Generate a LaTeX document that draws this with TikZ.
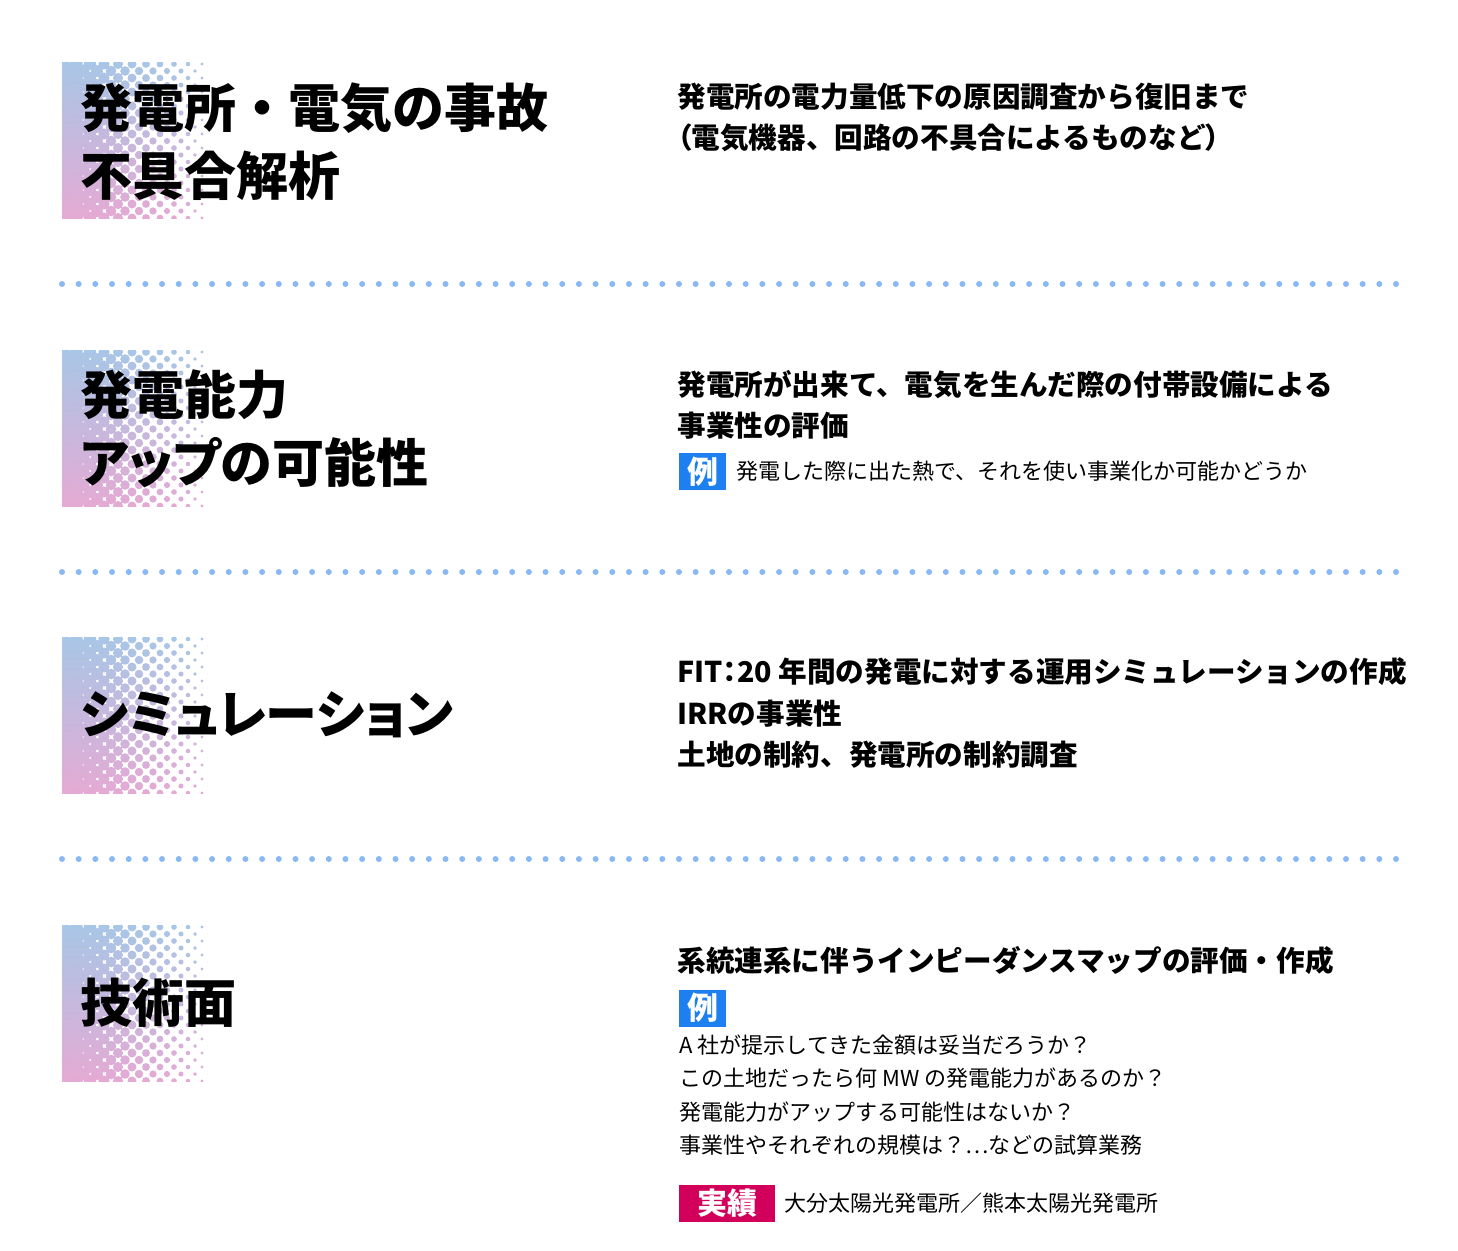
\documentclass[tikz,border=0pt]{standalone}
\usepackage{fontspec}
\usepackage{xcolor}
\newfontfamily\jp{Noto Sans CJK JP}
\newfontfamily\jpp{Noto Sans CJK JP}[RawFeature=+palt]
\definecolor{httop}{RGB}{168,198,230}
\definecolor{htbottom}{RGB}{228,170,212}
\definecolor{sepblue}{RGB}{138,184,245}
\definecolor{tagblue}{RGB}{30,128,240}
\definecolor{tagred}{RGB}{210,0,90}
\tikzset{
  head/.style={font=\jp\bfseries\fontsize{26pt}{34pt}\selectfont, align=left, inner sep=0pt, anchor=west},
  body/.style={font=\jp\bfseries\fontsize{14.3pt}{20.8pt}\selectfont, align=left, inner sep=0pt, anchor=west},
  small/.style={font=\jp\fontsize{11pt}{16.7pt}\selectfont, align=left, inner sep=0pt, anchor=west},
  tagbox/.style={fill=tagblue, text=white, font=\jp\bfseries\fontsize{15.5pt}{15.5pt}\selectfont,
    minimum width=23.5pt, minimum height=18.5pt, inner sep=0pt},
  resultbox/.style={fill=tagred, text=white, font=\jp\bfseries\fontsize{15pt}{15pt}\selectfont,
    minimum width=48pt, minimum height=18.5pt, inner sep=0pt},
  sepdot/.style={fill=sepblue}
}
% halftone square, #1 = top edge
\newcommand{\halftone}[1]{%
  \begin{scope}
    \clip (62,#1) rectangle (208,#1+156);
    \clip foreach \i in {0,...,22} {
      foreach \j [evaluate=\j as \xx using {62+14*\j+7*mod(\i,2)},
                  evaluate=\j as \rr using {max(0.6,7.3-0.04*(14*\j+7*mod(\i,2)))}] in {0,...,11}
        {(\xx,#1+2+7*\i) circle[radius=\rr*0.5pt]}
    };
    \shade[top color=httop, bottom color=htbottom] (62,#1) rectangle (208,#1+156);
  \end{scope}}

\begin{document}
\begin{tikzpicture}[x=0.5pt, y=-0.5pt]
  \useasboundingbox (0,0) rectangle (1458,1250);
  \halftone{62}
  \halftone{350}
  \halftone{637}
  \halftone{925}
  \foreach \ly in {284,572,859}
    \foreach \k in {0,...,80}
      \fill[sepdot] (62+16.675*\k,\ly) circle[radius=1.5pt];

  \node[head] (fault) at (80,142) {発電所・電気の事故\\不具合解析};
  \node[body] (faulttxt) at (677,117.5) {発電所の電力量低下の原因調査から復旧まで\\{\jpp（}電気機器、回路の不具合によるものなど{\jpp ）}};

  \node[head] (power) at (80,429) {発電能力\\{\jpp アップの可能性}};
  \node[body] (powertxt) at (677,405) {発電所が出来て、電気を生んだ際の付帯設備による\\事業性の評価};
  \node[tagbox] (powerex) at (702.5,471.5) {例};
  \node[small] (powerextxt) at (736,471.5) {発電した際に出た熱で、それを使い事業化か可能かどうか};

  \node[head] (sim) at (80,715) {\jpp シミュレーション};
  \node[body] (simtxt) at (677,713) {FIT{\jpp ：}20 年間の発電に対する運用シミュレーションの作成\\IRRの事業性\\土地の制約、発電所の制約調査};

  \node[head] (tech) at (80,1003) {技術面};
  \node[body] (techtxt) at (677,960) {系統連系に伴うインピーダンスマップの評価・作成};
  \node[tagbox] (techex) at (702.5,1008) {例};
  \node[small] (techextxt) at (679,1095) {A 社が提示してきた金額は妥当だろうか？\\この土地だったら何 MW の発電能力があるのか？\\発電能力がアップする可能性はないか？\\事業性やそれぞれの規模は？…などの試算業務};
  \node[resultbox] (result) at (727,1203.5) {実績};
  \node[small] (resulttxt) at (784,1203.5) {大分太陽光発電所／熊本太陽光発電所};
\end{tikzpicture}
\end{document}
